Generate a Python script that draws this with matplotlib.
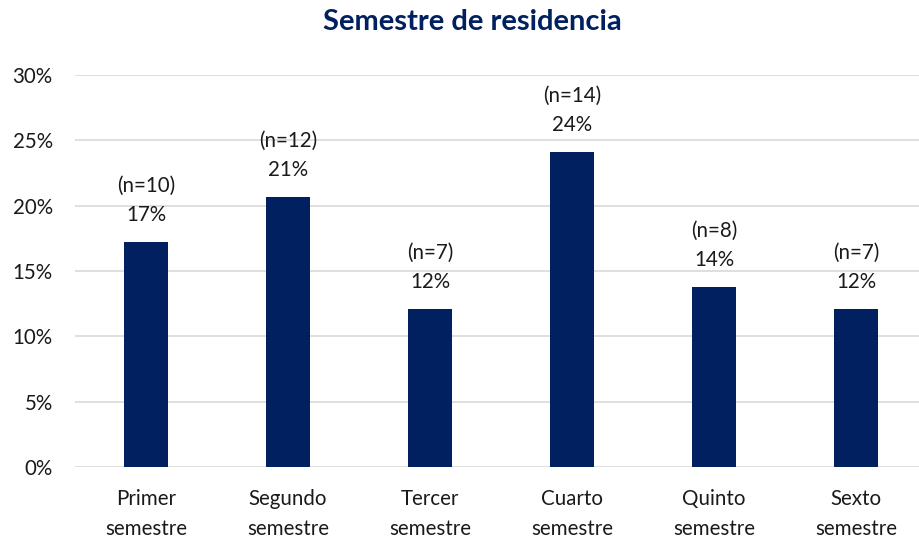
import matplotlib
matplotlib.use("Agg")
import matplotlib.pyplot as plt
from matplotlib.ticker import FuncFormatter

plt.rcParams['font.family'] = ['Lato', 'DejaVu Sans']

categories = ["Primer\nsemestre", "Segundo\nsemestre", "Tercer\nsemestre",
              "Cuarto\nsemestre", "Quinto\nsemestre", "Sexto\nsemestre"]
counts = [10, 12, 7, 14, 8, 7]
total = sum(counts)
percents = [c / total * 100 for c in counts]
yticks = [0, 5, 10, 15, 20, 25, 30]

navy = "#002060"
txt = "#1a1a1a"
fs = 14.8
W, H = 919, 539
fig = plt.figure(figsize=(W / 100, H / 100), dpi=100)
ax = fig.add_axes([75 / W, (H - 467) / H, (W - 75) / W, (467 - 75) / H])

x = list(range(len(categories)))
ax.bar(x, percents, width=0.31, color=navy, zorder=3)
ax.set_xlim(-0.5, (919 - 146) / 142)
ax.set_ylim(0, 30)
ax.set_yticks(yticks)
ax.yaxis.set_major_formatter(FuncFormatter(lambda v, p: f"{v:.0f}%"))
ax.grid(axis='y', color="#d9d9d9", linewidth=1.2, zorder=0)
for s in ax.spines.values():
    s.set_visible(False)
ax.tick_params(axis='both', length=0, labelsize=fs, labelcolor=txt)
ax.tick_params(axis='y', pad=16)
ax.tick_params(axis='x', pad=16)
ax.set_xticks(x)
ax.set_xticklabels(categories, linespacing=1.6)

for xi, p, c in zip(x, percents, counts):
    ax.annotate(f"{p:.0f}%", (xi, p), xytext=(0, 27 * 0.72), textcoords='offset points',
                ha='center', va='center', fontsize=fs, color=txt)
    ax.annotate(f"(n={c})", (xi, p), xytext=(0, 56 * 0.72), textcoords='offset points',
                ha='center', va='center', fontsize=fs, color=txt)

fig.text(472 / W, 1 - 22 / H, "Semestre de residencia", ha='center', va='center',
         fontsize=21, fontweight='bold', color=navy)

fig.savefig("out.png", dpi=100)
